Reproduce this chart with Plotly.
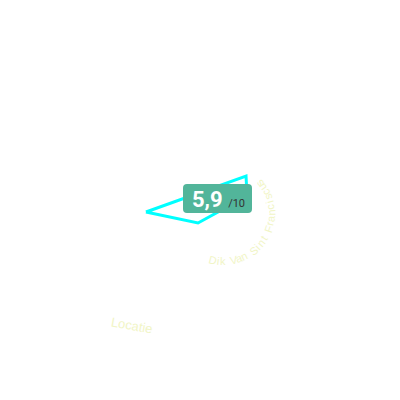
import math
import plotly.graph_objects as go

# ---- data ----
score_label = "5,9"
score_max = "/10"
theta_deg = [187.4, 32.2, 10.8, 263.7, 187.4]
r_values = [5.45, 5.44, 4.79, 1.81, 5.45]
arc_label = "Dik Van Sint Franciscus"
bottom_label = "Locatie"

W = H = 400
OFF = 8  # page body margin
def px(x):
    return (x - OFF) / W
def py(y):
    return 1 - (y - OFF) / H

fig = go.Figure()
fig.add_trace(go.Scatterpolar(
    r=r_values, theta=theta_deg, mode="lines",
    line=dict(color="#00ffff", width=3),
    hoverinfo="skip",
))

faint = "#f1f5c6"
annotations = []
# curved faint label
cx, cy, R = 224, 214, 47
a0, step = 104.0, 6.6
for i, ch in enumerate(arc_label):
    a = math.radians(a0 - i * step)
    x = cx + R * math.cos(a)
    y = cy + R * math.sin(a)
    ang = math.degrees(math.atan2(-math.cos(a), math.sin(a)))
    annotations.append(dict(
        x=px(x), y=py(y), xref="paper", yref="paper", text=ch,
        showarrow=False, textangle=ang, xanchor="center", yanchor="middle",
        font=dict(family="Liberation Sans", size=11, color=faint),
    ))
# bottom-left faint label
annotations.append(dict(
    x=px(132), y=py(325), xref="paper", yref="paper", text=bottom_label,
    showarrow=False, textangle=10, xanchor="center", yanchor="middle",
    font=dict(family="Liberation Sans", size=13, color=faint),
))

# badge
x0, x1, y0, y1, rr = 183, 252, 184, 213, 4
path = (f"M {px(x0+rr)},{py(y0)} L {px(x1-rr)},{py(y0)} Q {px(x1)},{py(y0)} {px(x1)},{py(y0+rr)} "
        f"L {px(x1)},{py(y1-rr)} Q {px(x1)},{py(y1)} {px(x1-rr)},{py(y1)} "
        f"L {px(x0+rr)},{py(y1)} Q {px(x0)},{py(y1)} {px(x0)},{py(y1-rr)} "
        f"L {px(x0)},{py(y0+rr)} Q {px(x0)},{py(y0)} {px(x0+rr)},{py(y0)} Z")
shapes = [dict(type="path", path=path, xref="paper", yref="paper",
               fillcolor="#52b59a", line=dict(width=0), layer="above")]

annotations.append(dict(
    x=px(218), y=py(199), xref="paper", yref="paper",
    text=f"<b>{score_label}</b> <span style='font-size:11px;color:#333333'>{score_max}</span>",
    showarrow=False, xanchor="center", yanchor="middle",
    font=dict(family="Roboto", size=22, color="#ffffff"),
))

cyc = py(205)
fig.update_layout(
    width=W, height=H, margin=dict(l=0, r=0, t=0, b=0),
    paper_bgcolor="white", plot_bgcolor="white", showlegend=False,
    polar=dict(
        domain=dict(x=[px(200) - 0.25, px(200) + 0.25], y=[cyc - 0.25, cyc + 0.25]),
        bgcolor="rgba(0,0,0,0)",
        radialaxis=dict(visible=False, range=[0, 10]),
        angularaxis=dict(visible=False, direction="counterclockwise", rotation=0),
    ),
    xaxis=dict(visible=False), yaxis=dict(visible=False),
    shapes=shapes, annotations=annotations,
)
fig.write_html("out.html")
